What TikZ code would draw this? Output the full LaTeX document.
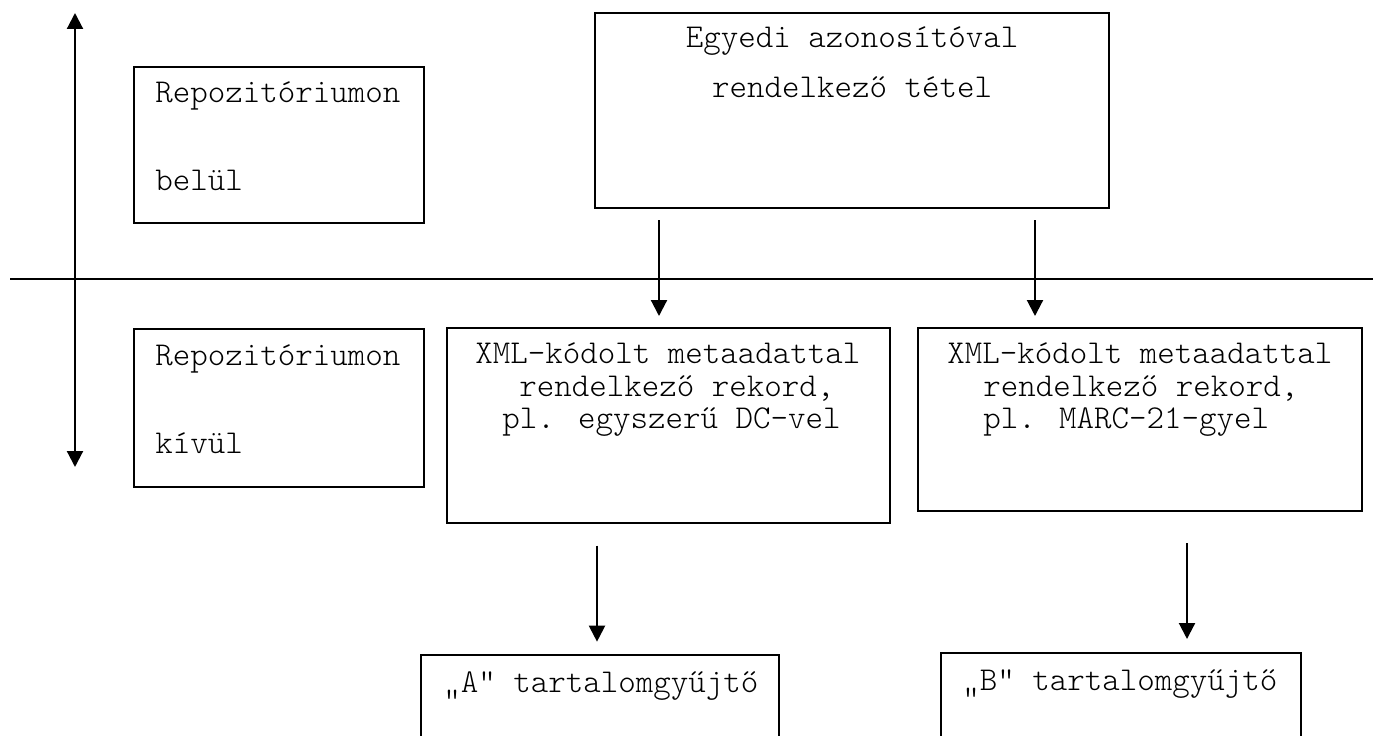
\documentclass[tikz,border=0pt]{standalone}
\usepackage{fontspec}
\newfontfamily\cour{Latin Modern Mono Light}
\usetikzlibrary{arrows.meta}
\tikzset{
  x=0.75pt, y=-0.75pt,
  box/.style={draw=black, line width=1.3pt, rectangle, inner sep=0pt, outer sep=0pt, anchor=north west},
  txt/.style={font=\cour\fontsize{25}{28}\selectfont, inner sep=0pt, text=black},
  tip/.style={Triangle[length=12pt,width=12pt]},
  arr/.style={line width=1.6pt, -{Triangle[length=12pt,width=12pt]}},
  divider/.style={line width=1.2pt},
}
\begin{document}
\begin{tikzpicture}
\useasboundingbox (0,0) rectangle (1373,735);
\clip (0,0) rectangle (1373,735);
\fill[white] (0,0) rectangle (1373,735);

% boxes
\node[box, minimum width=217.5pt, minimum height=117pt] (L1) at (134,67) {};
\node[box, minimum width=217.5pt, minimum height=118.5pt] (L2) at (134,329) {};
\node[box, minimum width=385.5pt, minimum height=146.25pt] (T) at (595,13) {};
\node[box, minimum width=332.25pt, minimum height=146.25pt] (X1) at (447,328) {};
\node[box, minimum width=333pt, minimum height=137.25pt] (X2) at (918,328) {};
\node[box, minimum width=268.5pt, minimum height=90pt] (A) at (421,655) {};
\node[box, minimum width=270pt, minimum height=90pt] (B) at (941,653) {};

% texts
\node[txt, anchor=base west] (l1a) at (155,102) {Repozitóriumon};
\node[txt, anchor=base west] (l1b) at (155,190) {belül};
\node[txt, anchor=base west] (l2a) at (155,365) {Repozitóriumon};
\node[txt, anchor=base west] (l2b) at (155,453) {kívül};

\node[txt, anchor=base] (ta) at (852,48) {Egyedi azonosítóval};
\node[txt, anchor=base] (tb) at (852,98) {rendelkező tétel};

\node[txt, anchor=base west] (x1a) at (475,363) {XML-kódolt metaadattal};
\node[txt, anchor=base west] (x1b) at (519,396) {rendelkező rekord,};
\node[txt, anchor=base west] (x1c) at (502,428) {pl. egyszerű DC-vel};

\node[txt, anchor=base west] (x2a) at (947,363) {XML-kódolt metaadattal};
\node[txt, anchor=base west] (x2b) at (983,396) {rendelkező rekord,};
\node[txt, anchor=base west] (x2c) at (983,428) {pl. MARC-21-gyel};

\node[txt, anchor=base west] (at) at (443,692) {„A” tartalomgyűjtő};
\node[txt, anchor=base west] (bt) at (962,690) {„B” tartalomgyűjtő};

% divider and side arrow
\coordinate (hl) at (10,279);
\coordinate (hr) at (1373,279);
\draw[divider] (hl) -- (hr);
\coordinate (vt) at (75,13);
\coordinate (vb) at (75,467);
\draw[line width=1.6pt, {Triangle[length=12pt,width=12pt]}-{Triangle[length=12pt,width=12pt]}] (vb) -- (vt);

% connectors
\coordinate (c1) at (659,0);
\coordinate (c2) at (1035,0);
\coordinate (c3) at (597,0);
\coordinate (c4) at (1187,0);
\draw[arr, shorten <=9pt, shorten >=9pt] (T.south -| c1) -- (X1.north -| c1);
\draw[arr, shorten <=9pt, shorten >=9pt] (T.south -| c2) -- (X2.north -| c2);
\draw[arr, shorten <=17pt, shorten >=10pt] (X1.south -| c3) -- (A.north -| c3);
\draw[arr, shorten <=24pt, shorten >=10.5pt] (X2.south -| c4) -- (B.north -| c4);
\end{tikzpicture}
\end{document}
